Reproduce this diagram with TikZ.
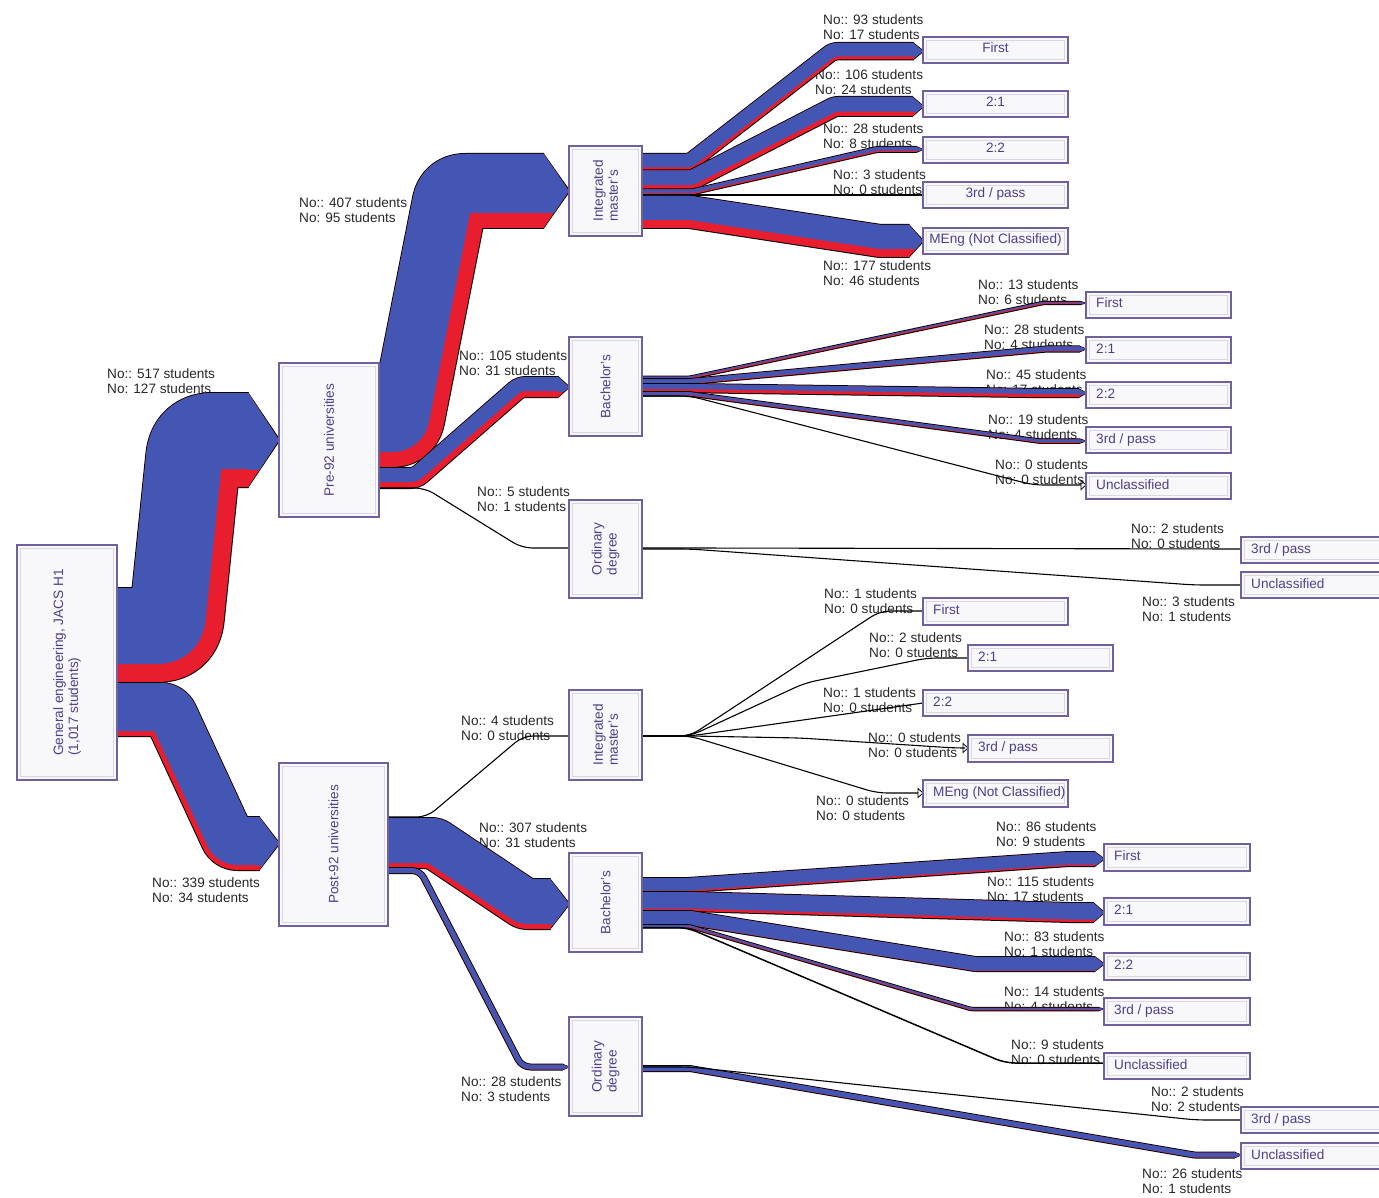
\documentclass[tikz,border=0pt]{standalone}
\usepackage{fontspec}
\setmainfont{Liberation Sans}
\definecolor{flowblue}{RGB}{68,86,180}
\definecolor{flowred}{RGB}{232,30,46}
\definecolor{boxline}{RGB}{112,96,160}
\definecolor{boxtext}{RGB}{78,62,140}
\definecolor{boxfill}{RGB}{248,248,251}
\definecolor{boxinner}{RGB}{216,216,226}
\definecolor{labelcol}{RGB}{40,40,40}
\newcommand\lblfont{\fontsize{13.6}{15}\selectfont}
\newcommand\setm[2]{\expandafter\pgfmathsetmacro\csname #1\endcsname{#2}}

% points of one edge of a band, at offset #1 (positive = lower side), prefix #2
\newcommand\edgepts[2]{%
  \pgfmathsetmacro\edPx{\bdxa-(#1)*\bdk}%
  \pgfmathsetmacro\edPy{\bdya+(#1)}%
  \pgfmathsetmacro\edQx{\bdxb-(#1)*\bdk}%
  \pgfmathsetmacro\edQy{\bdyb+(#1)}%
  \pgfmathsetmacro\ediA{max(\bdRc+\bdsig*(#1),0.3)*\bdtau}%
  \pgfmathsetmacro\ediB{max(\bdRc-\bdsig*(#1),0.3)*\bdtau}%
  \setm{#2ys}{\edPy}\setm{#2ye}{\edQy}%
  \setm{#2Aix}{\edPx-\ediA}\setm{#2Aiy}{\edPy}%
  \setm{#2Acx}{\edPx-0.4*\ediA}\setm{#2Acy}{\edPy}%
  \setm{#2Adx}{\edPx+0.4*\ediA*\bdvx}\setm{#2Ady}{\edPy+0.4*\ediA*\bdvy}%
  \setm{#2Aox}{\edPx+\ediA*\bdvx}\setm{#2Aoy}{\edPy+\ediA*\bdvy}%
  \setm{#2Bix}{\edQx-\ediB*\bdvx}\setm{#2Biy}{\edQy-\ediB*\bdvy}%
  \setm{#2Bcx}{\edQx-0.4*\ediB*\bdvx}\setm{#2Bcy}{\edQy-0.4*\ediB*\bdvy}%
  \setm{#2Bdx}{\edQx+0.4*\ediB}\setm{#2Bdy}{\edQy}%
  \setm{#2Box}{\edQx+\ediB}\setm{#2Boy}{\edQy}%
}
% filled strip of the current band between offsets #1 (upper) and #2 (lower)
\newcommand\strip[3]{%
  \edgepts{#1}{edt}\edgepts{#2}{edb}%
  \fill[#3] (\bdxo,\edtys) -- (\edtAix,\edtAiy) .. controls (\edtAcx,\edtAcy) and (\edtAdx,\edtAdy) .. (\edtAox,\edtAoy)
    -- (\edtBix,\edtBiy) .. controls (\edtBcx,\edtBcy) and (\edtBdx,\edtBdy) .. (\edtBox,\edtBoy)
    -- (\bdxe,\edtye) -- (\bdxe,\edbye)
    -- (\edbBox,\edbBoy) .. controls (\edbBdx,\edbBdy) and (\edbBcx,\edbBcy) .. (\edbBix,\edbBiy)
    -- (\edbAox,\edbAoy) .. controls (\edbAdx,\edbAdy) and (\edbAcx,\edbAcy) .. (\edbAix,\edbAiy)
    -- (\bdxo,\edbys) -- cycle;
}
% \band{x0}{top at source}{xa}{xb}{x tip}{top at target}{blue}{red}{radius}
\newcommand\band[9]{%
  \pgfmathsetmacro\bdT{#7+#8}%
  \pgfmathsetmacro\bdxa{#3}\pgfmathsetmacro\bdxb{#4}\pgfmathsetmacro\bdxo{#1}%
  \pgfmathsetmacro\bdya{#2+\bdT/2}%
  \pgfmathsetmacro\bdyb{#6+\bdT/2}%
  \pgfmathsetmacro\bddx{(#4-#3)/100}%
  \pgfmathsetmacro\bddy{(\bdyb-\bdya)/100}%
  \pgfmathsetmacro\bdL{sqrt(\bddx*\bddx+\bddy*\bddy)}%
  \pgfmathsetmacro\bdk{\bddy/(\bdL+\bddx)}%
  \pgfmathsetmacro\bdtau{abs(\bdk)}%
  \pgfmathsetmacro\bdvx{\bddx/\bdL}\pgfmathsetmacro\bdvy{\bddy/\bdL}%
  \pgfmathsetmacro\bdsig{(\bddy<0)?1:-1}%
  \pgfmathsetmacro\bdRc{#9}%
  \pgfmathsetmacro\bdh{0.27*\bdT+5}%
  \pgfmathsetmacro\bdxe{#5-\bdh}%
  \pgfmathsetmacro\bdo{\bdT/2}%
  \pgfmathsetmacro\bdbot{#6+\bdT}%
  \pgfmathsetmacro\bdsplit{#6+#7}%
  \pgfmathsetmacro\bdoa{-\bdo-1}\pgfmathsetmacro\bdob{\bdo+1}%
  \pgfmathsetmacro\bdoc{-\bdo}\pgfmathsetmacro\bdod{-\bdo+#7}%
  \strip{\bdoa}{\bdob}{black}%
  \fill[black] (\bdxe-0.5,#6-1) -- (#5+1.4,\bdyb) -- (\bdxe-0.5,\bdbot+1) -- cycle;
  \strip{\bdoc}{\bdo}{flowred}%
  \fill[flowred] (\bdxe-0.5,#6) -- (#5,\bdyb) -- (\bdxe-0.5,\bdbot) -- cycle;
  \strip{\bdoc}{\bdod}{flowblue}%
  \begin{scope}
    \clip (\bdxe-1,#6-0.5) rectangle (#5+1,\bdsplit);
    \fill[flowblue] (\bdxe-0.5,#6) -- (#5,\bdyb) -- (\bdxe-0.5,\bdbot) -- cycle;
  \end{scope}
}
\newcommand\lab[5]{\node[lbl] (#1) at (#2,#3-5) {#4\\#5};}
\newcommand\boxat[5]{%
  \node[box, minimum width={#4-#2}, minimum height={#5-#3}] (#1) at ({(#2+#4)/2},{(#3+#5)/2}) {};
  \draw[boxinner, line width=0.7pt] ([shift={(3.5,3.5)}]#1.north west) rectangle ([shift={(-3.5,-3.5)}]#1.south east);}
\newcommand\obc[6]{\boxat{#1}{#2}{#3}{#4}{#5}\node[btxt,anchor=base] (#1t) at ({(#2+#4)/2},{(#3+#5)/2+3}) {#6};}
\newcommand\obl[6]{\boxat{#1}{#2}{#3}{#4}{#5}\node[btxt,anchor=base west] (#1t) at (#2+10,{(#3+#5)/2+3}) {#6};}

\begin{document}
\begin{tikzpicture}[x=1pt,y=-1pt,
  lbl/.style={font=\lblfont, text=labelcol, inner sep=0pt, align=left, anchor=north west},
  btxt/.style={font=\lblfont, text=boxtext, inner sep=0pt},
  box/.style={draw=boxline, fill=boxfill, line width=1.3pt, inner sep=0pt, outer sep=0pt},
  thinflow/.style={black, line width=1.1pt, rounded corners=10pt},
  zerotip/.style={black, line width=0.8pt}]

\useasboundingbox (0,0) rectangle (1379,1198);
\fill[white] (0,0) rectangle (1379,1198);

% ---------------- labels ----------------
\lab{l1}{107}{373}{No:: 517 students}{No: 127 students}
\lab{l2}{152}{882}{No:: 339 students}{No: 34 students}
\lab{l3}{299}{202}{No:: 407 students}{No: 95 students}
\lab{l4}{459}{355}{No:: 105 students}{No: 31 students}
\lab{l5}{477}{491}{No:: 5 students}{No: 1 students}
\lab{l6}{461}{720}{No:: 4 students}{No: 0 students}
\lab{l7}{479}{827}{No:: 307 students}{No: 31 students}
\lab{l8}{461}{1081}{No:: 28 students}{No: 3 students}
\lab{l9}{823}{19}{No:: 93 students}{No: 17 students}
\lab{l10}{815}{74}{No:: 106 students}{No: 24 students}
\lab{l11}{823}{128}{No:: 28 students}{No: 8 students}
\lab{l12}{833}{174}{No:: 3 students}{No: 0 students}
\lab{l13}{823}{265}{No:: 177 students}{No: 46 students}
\lab{l14}{978}{284}{No:: 13 students}{No: 6 students}
\lab{l15}{984}{329}{No:: 28 students}{No: 4 students}
\lab{l16}{986}{374}{No:: 45 students}{No: 17 students}
\lab{l17}{988}{419}{No:: 19 students}{No: 4 students}
\lab{l18}{995}{464}{No:: 0 students}{No: 0 students}
\lab{l19}{1131}{528}{No:: 2 students}{No: 0 students}
\lab{l20}{1142}{601}{No:: 3 students}{No: 1 students}
\lab{l21}{824}{593}{No:: 1 students}{No: 0 students}
\lab{l22}{869}{637}{No:: 2 students}{No: 0 students}
\lab{l23}{823}{692}{No:: 1 students}{No: 0 students}
\lab{l24}{868}{737}{No:: 0 students}{No: 0 students}
\lab{l25}{816}{800}{No:: 0 students}{No: 0 students}
\lab{l26}{996}{826}{No:: 86 students}{No: 9 students}
\lab{l27}{987}{881}{No:: 115 students}{No: 17 students}
\lab{l28}{1004}{936}{No:: 83 students}{No: 1 students}
\lab{l29}{1004}{991}{No:: 14 students}{No: 4 students}
\lab{l30}{1011}{1044}{No:: 9 students}{No: 0 students}
\lab{l31}{1151}{1091}{No:: 2 students}{No: 2 students}
\lab{l32}{1142}{1173}{No:: 26 students}{No: 1 students}

% ---------------- flows ----------------
% level 1
\band{117}{588}{175}{195}{279}{393}{76}{18}{20}
\band{117}{683}{168}{230}{279}{817}{48}{5}{11}
% level 2, pre-92
\band{379}{393}{405}{452}{569}{154}{59}{15}{16}
\band{379}{468}{416}{520}{569}{377}{14}{6}{14}
\draw[thinflow] (379,488) -- (425,488) -- (522,548) -- (569,548);
% level 2, post-92
\draw[thinflow] (388,817) -- (427,817) -- (523,736) -- (569,736);
\band{388}{818}{434}{525}{569}{879}{45}{5}{6}
\band{388}{868}{420}{522}{569}{1064.5}{4.8}{0.2}{14}
% pre-92 integrated master's
\band{642}{154}{690}{833}{923}{43}{13.5}{3}{12}
\band{642}{170.5}{692}{835}{923}{97}{14.6}{4.4}{12}
\band{642}{189.5}{692}{877}{923}{147}{3.6}{1.4}{10}
\draw[thinflow] (642,195) -- (923,195);
\band{642}{196}{690}{880}{923}{225}{24}{8}{8}
% pre-92 bachelor's
\band{642}{376.5}{690}{1043}{1086}{301.8}{1.3}{1.1}{10}
\band{642}{379}{690}{1046}{1086}{346.5}{4.4}{0.7}{10}
\band{642}{384}{690}{1040}{1086}{389}{5.1}{3.1}{10}
\band{642}{392.2}{690}{1039}{1086}{439.3}{2.8}{0.7}{10}
\draw[thinflow] (642,396) -- (690,396) -- (1033,485) -- (1081,485);
\draw[zerotip] (1081,480.5) -- (1086,485) -- (1081,489.5) -- cycle;
% pre-92 ordinary degree
\draw[thinflow] (642,548) -- (690,548) -- (1241,549);
\draw[thinflow] (642,549) -- (690,549) -- (1194,585) -- (1241,585);
% post-92 integrated master's
\draw[thinflow] (642,736) -- (690,736) -- (880,611) -- (923,611);
\draw[thinflow] (642,736) -- (690,736) -- (805,683) -- (927,658) -- (968,658);
\draw[thinflow] (642,736) -- (690,736) -- (923,703);
\draw[thinflow] (642,736) -- (690,736) -- (800,738) -- (955,748) -- (963,748);
\draw[zerotip] (963,743.5) -- (968,748) -- (963,752.5) -- cycle;
\draw[thinflow] (642,736) -- (690,736) -- (877,793) -- (918,793);
\draw[zerotip] (918,788.5) -- (923,793) -- (918,797.5) -- cycle;
% post-92 bachelor's
\band{642}{878}{688}{1069}{1104}{852}{12.5}{1.5}{10}
\band{642}{892}{689}{1069}{1104}{903}{16.5}{2.5}{10}
\band{642}{911}{690}{975}{1104}{957}{13.7}{0.3}{12}
\band{642}{925}{689}{971}{1104}{1007.8}{1.8}{0.7}{10}
\draw[thinflow, line width=1.5pt] (642,927.5) -- (687,927.5) -- (1005,1063) -- (1104,1063);
% post-92 ordinary degree
\band{642}{1066}{690}{1194}{1241}{1152.5}{4.8}{0.2}{10}
\draw[thinflow] (642,1067) -- (690,1067) -- (1196,1120) -- (1241,1120);

% ---------------- boxes ----------------
\boxat{root}{17}{545}{117}{780}
\node[btxt, rotate=90, align=left] (roott) at (root.center) {General engineering, JACS H1\\(1,017 students)};
\boxat{pre}{279}{363}{379}{517}
\node[btxt, rotate=90] (pret) at (pre.center) {Pre-92 universities};
\boxat{post}{279}{763}{388}{926}
\node[btxt, rotate=90] (postt) at (post.center) {Post-92 universities};

\boxat{pim}{569}{146}{642}{236}
\node[btxt, rotate=90, align=left] (pimt) at (pim.center) {Integrated\\master's};
\boxat{pba}{569}{337}{642}{436}
\node[btxt, rotate=90] (pbat) at (pba.center) {Bachelor's};
\boxat{por}{569}{500}{642}{598}
\node[btxt, rotate=90, align=left] (port) at (por.center) {Ordinary\\degree};
\boxat{qim}{569}{690}{642}{780}
\node[btxt, rotate=90, align=left] (qimt) at (qim.center) {Integrated\\master's};
\boxat{qba}{569}{853}{642}{952}
\node[btxt, rotate=90] (qbat) at (qba.center) {Bachelor's};
\boxat{qor}{569}{1017}{642}{1116}
\node[btxt, rotate=90, align=left] (qort) at (qor.center) {Ordinary\\degree};

% pre-92 integrated master's outcomes
\obc{a1}{923}{37}{1068}{63}{First}
\obc{a2}{923}{91}{1068}{117}{2:1}
\obc{a3}{923}{137}{1068}{163}{2:2}
\obc{a4}{923}{182}{1068}{208}{3rd / pass}
\obc{a5}{923}{228}{1068}{254}{MEng (Not Classified)}
% pre-92 bachelor's outcomes
\obl{b1}{1086}{292}{1231}{318}{First}
\obl{b2}{1086}{337}{1231}{363}{2:1}
\obl{b3}{1086}{382}{1231}{408}{2:2}
\obl{b4}{1086}{427}{1231}{453}{3rd / pass}
\obl{b5}{1086}{473}{1231}{499}{Unclassified}
% pre-92 ordinary outcomes
\obl{c1}{1241}{537}{1392}{563}{3rd / pass}
\obl{c2}{1241}{572}{1392}{598}{Unclassified}
% post-92 integrated master's outcomes
\obl{d1}{923}{598}{1068}{625}{First}
\obl{d2}{968}{645}{1113}{671}{2:1}
\obl{d3}{923}{690}{1068}{716}{2:2}
\obl{d4}{968}{735}{1113}{762}{3rd / pass}
\obl{d5}{923}{780}{1068}{807}{MEng (Not Classified)}
% post-92 bachelor's outcomes
\obl{e1}{1104}{844}{1250}{871}{First}
\obl{e2}{1104}{898}{1250}{925}{2:1}
\obl{e3}{1104}{953}{1250}{980}{2:2}
\obl{e4}{1104}{998}{1250}{1025}{3rd / pass}
\obl{e5}{1104}{1053}{1250}{1079}{Unclassified}
% post-92 ordinary outcomes
\obl{f1}{1241}{1107}{1392}{1133}{3rd / pass}
\obl{f2}{1241}{1143}{1392}{1169}{Unclassified}
\end{tikzpicture}
\end{document}
